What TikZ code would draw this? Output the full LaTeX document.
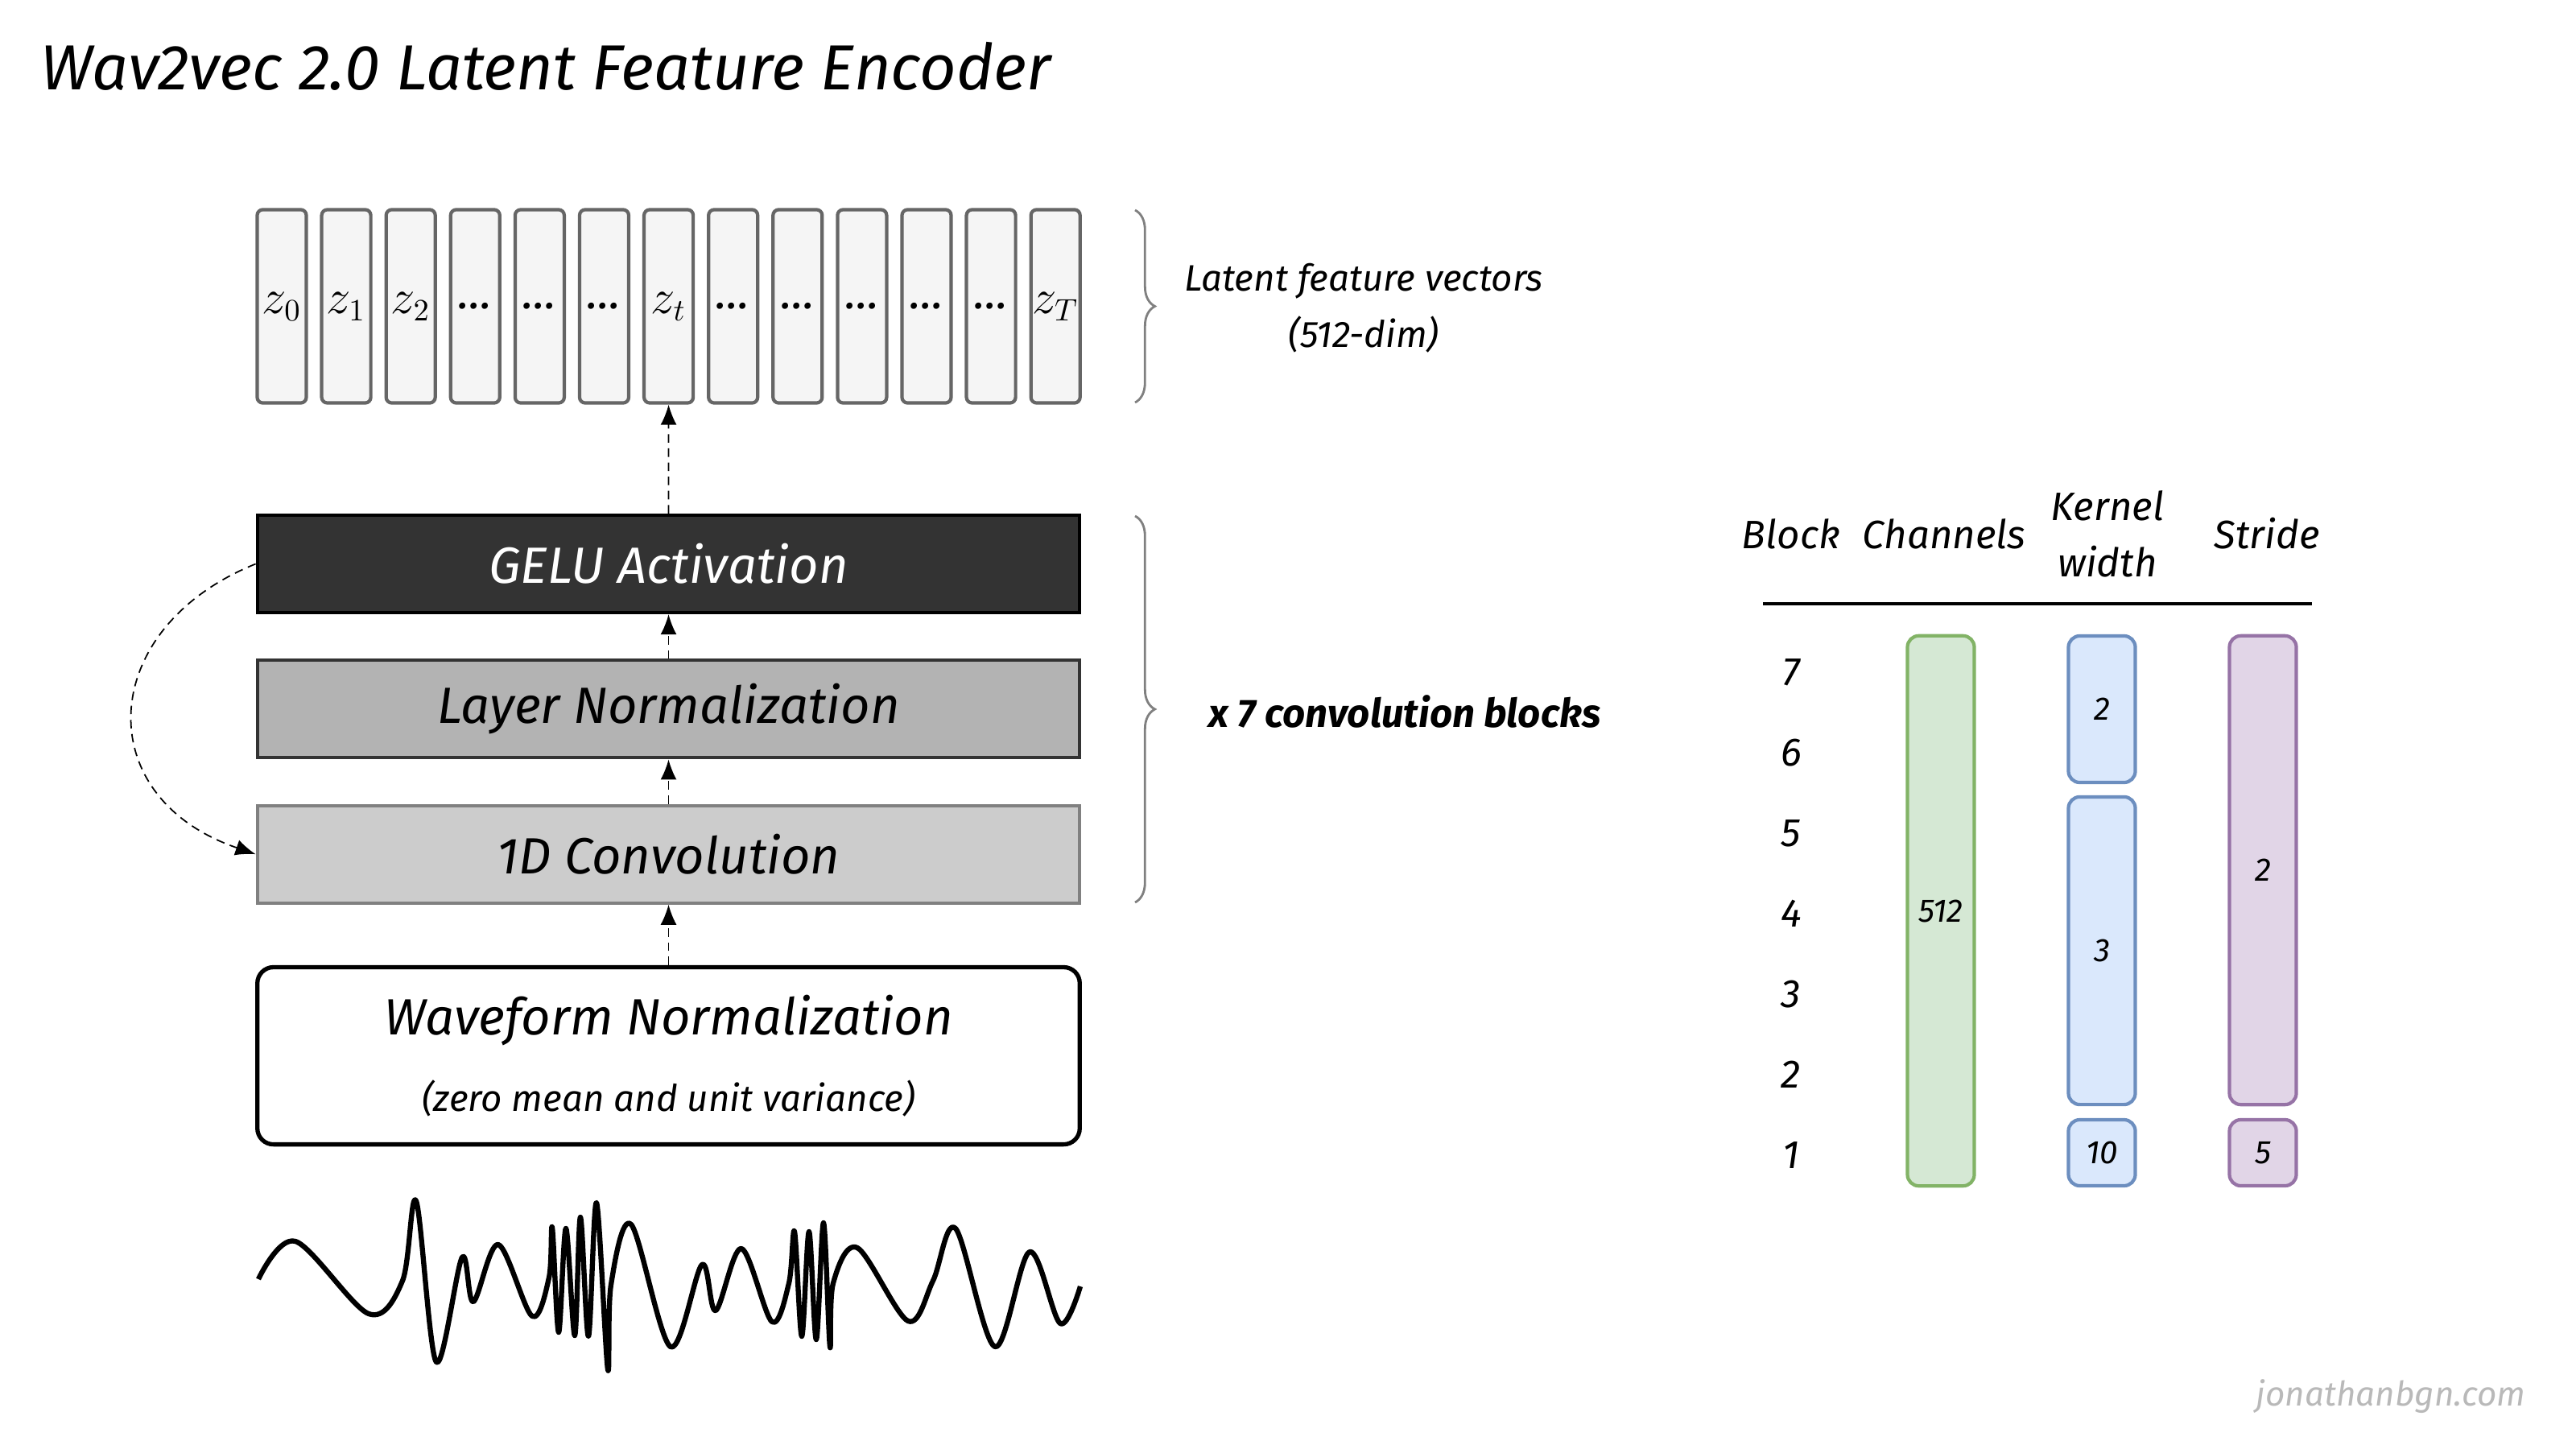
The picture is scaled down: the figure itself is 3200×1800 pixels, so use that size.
\documentclass[tikz,border=0pt]{standalone}
\usepackage{fontspec}
\setmainfont{Fira Sans}
\usepackage{tikz}
\usetikzlibrary{arrows.meta,decorations.pathreplacing,positioning}
\definecolor{geluc}{HTML}{333333}
\definecolor{lnormc}{HTML}{B3B3B3}
\definecolor{convc}{HTML}{CCCCCC}
\definecolor{vecfill}{HTML}{F5F5F5}
\definecolor{vecline}{HTML}{666666}
\definecolor{chfill}{HTML}{D5E8D4}
\definecolor{chline}{HTML}{82B366}
\definecolor{kwfill}{HTML}{DAE8FC}
\definecolor{kwline}{HTML}{6C8EBF}
\definecolor{stfill}{HTML}{E1D5E7}
\definecolor{stline}{HTML}{9673A6}
\def\hand#1#2{\fontsize{#1}{#2}\selectfont\itshape}
\def\bloc#1#2#3#4#5{\node[bloc,fill=#1fill,draw=#1line,minimum height=#3cm] (#2) at (#4) {#5}}
\tikzstyle{vec}=[draw=vecline,fill=vecfill,line width=1.2pt,rounded corners=2pt,minimum width=0.61cm,minimum height=2.4cm,inner sep=0pt,font=\hand{16}{18}]
\tikzstyle{layer}=[draw,line width=1.2pt,minimum width=10.21cm,minimum height=1.21cm,inner sep=0pt,align=center,font=\hand{18}{22}]
\tikzstyle{flow}=[densely dashed,-{Latex[length=2.5mm,width=2mm]},line width=0.5pt]
\tikzstyle{brace}=[draw=gray,line width=0.8pt,decorate,decoration={brace,amplitude=7pt}]
\tikzstyle{note}=[font=\hand{13}{20},align=center]
\tikzstyle{head}=[font=\hand{14}{20},align=center]
\tikzstyle{bloc}=[rounded corners=4pt,line width=1.2pt,minimum width=0.83cm,inner sep=0pt,font=\hand{11.5}{13}]

\begin{document}
\begin{tikzpicture}[x=0.01cm,y=-0.01cm]
  \useasboundingbox[fill=white] (0,0) rectangle (3200,1800);
  \node[anchor=west,font=\hand{22.5}{26}] (title) at (38,82) {Wav2vec 2.0 Latent Feature Encoder};
  % latent vectors
  \foreach \lab [count=\i from 0] in {$z_0$,$z_1$,$z_2$,\ldots,\ldots,\ldots,$z_t$,\ldots,\ldots,\ldots,\ldots,\ldots,$z_T$}
    \node[vec] (v\i) at ({350+80.1*\i},380.5) {\lab};
  \draw[brace] (1410,261) -- (1410,500);
  \node[note] (latent) at (1694,383) {Latent feature vectors\\(512-dim)};
  % convolution block
  \node[layer,fill=geluc,draw=black,text=white] (gelu) at (830.5,700.5) {GELU Activation};
  \node[layer,fill=lnormc,draw=geluc,below=0.55cm of gelu] (lnorm) {Layer Normalization};
  \node[layer,fill=convc,draw=gray,below=0.55cm of lnorm] (conv) {1D Convolution};
  \node[layer,fill=white,draw=black,line width=1.5pt,rounded corners=0.2cm,minimum height=2.2cm,below=0.75cm of conv] (wave)
    {Waveform Normalization\\[5pt]{\hand{13}{16}(zero mean and unit variance)}};
  \draw[brace] (1410,641) -- (1410,1121);
  \node[note,font=\hand{14}{20}\bfseries] (reps) at (1745,884) {x 7 convolution blocks};
  \draw[flow] (wave) -- (conv);
  \draw[flow] (conv) -- (lnorm);
  \draw[flow] (lnorm) -- (gelu);
  \draw[flow] (gelu) -- (v6);
  \draw[flow] (gelu.west) .. controls (120,780) and (110,990) .. (conv.west);
  % raw waveform
  \draw[line width=1.8pt,line join=round] plot[smooth,tension=0.55] coordinates {
    (321,1589) (367,1542) (458,1632) (500,1591) (517,1492) (542,1692) (574,1562)
    (588,1617) (619,1546) (661,1635) (682,1587) (686,1525) (694,1655) (703,1526)
    (714,1659) (721,1512) (731,1660) (741,1494) (755,1701) (759,1596) (784,1521)
    (833,1673) (872,1571) (889,1628) (921,1551) (959,1642) (980,1594) (987,1530)
    (996,1660) (1005,1530) (1014,1664) (1023,1519) (1031,1673) (1035,1594)
    (1065,1550) (1128,1641) (1159,1591) (1187,1526) (1236,1673) (1279,1555)
    (1317,1644) (1342,1598)};
  % parameter table
  \node[head] (hblock) at (2225,663) {Block};
  \node[head] (hchan) at (2415,663) {Channels};
  \node[head] (hkern) at (2618,663) {Kernel\\width};
  \node[head] (hstride) at (2816,663) {Stride};
  \draw[line width=1.2pt] (2190,750) -- (2872,750);
  \foreach \k in {1,...,7}
    \node[head] (row\k) at (2225,{1435-100*(\k-1)}) {\k};
  \bloc{ch}{chan}{6.83}{2411,1131.5}{512};
  \bloc{kw}{kwtop}{1.82}{2611,881}{2};
  \bloc{kw}{kwmid}{3.82}{2611,1181}{3};
  \bloc{kw}{kwlow}{0.82}{2611,1432}{10};
  \bloc{st}{sttop}{5.82}{2811,1081}{2};
  \bloc{st}{stlow}{0.82}{2811,1432}{5};
  \node[text=gray!55,font=\hand{12}{14}] (site) at (2970,1735) {jonathanbgn.com};
\end{tikzpicture}
\end{document}
